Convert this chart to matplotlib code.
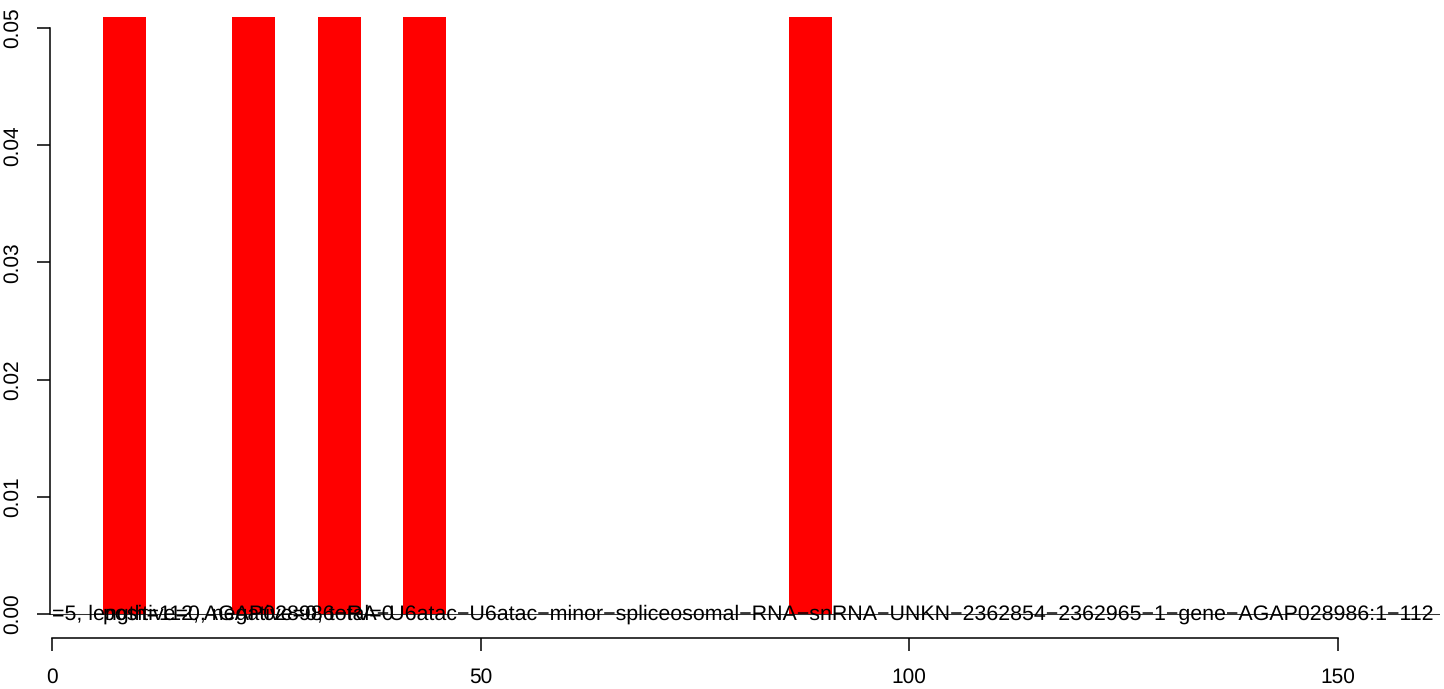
import matplotlib
matplotlib.use("Agg")
import matplotlib.pyplot as plt
import matplotlib.transforms as mtransforms

# bars: left edge, width, height (all bars clipped at the same height)
bar_left = [6, 21, 31, 41, 86]
bar_width = 5
bar_height = [0.0509, 0.0509, 0.0509, 0.0509, 0.0509]

label_main = "=5, length=112, AGAP028986\u2212RA\u2212U6atac\u2212U6atac\u2212minor\u2212spliceosomal\u2212RNA\u2212snRNA\u2212UNKN\u22122362854\u22122362965\u22121\u2212gene\u2212AGAP028986:1\u2212112"
label_main_x = 0
label_counts = "positive=0, negative=0, total=0"
label_counts_x = 6

x_ticks = [0, 50, 100, 150]
y_ticks = [0.00, 0.01, 0.02, 0.03, 0.04, 0.05]

plt.rcParams['font.family'] = ['Liberation Sans', 'DejaVu Sans']
plt.rcParams['text.hinting'] = 'no_hinting'
fs = 15
fs_label = 15.4

fig = plt.figure(figsize=(14.44, 6.89), dpi=100)
W, H = 1444, 689
ax = fig.add_axes([50 / W, 51 / H, 1390 / W, 638 / H])

ax.bar(bar_left, bar_height, width=bar_width, align='edge', color='#ff0000', linewidth=0)
ax.axhline(0, color='#333333', linewidth=0.75)

ax.set_xlim(-0.23, 161.9)
ax.set_ylim(-0.002048, 0.05239)

off = mtransforms.offset_copy(ax.transData, fig=fig, x=0, y=-6, units='dots')
ax.text(label_main_x, 0, label_main, ha='left', va='baseline', fontsize=fs_label,
        transform=off, clip_on=True)
ax.text(label_counts_x, 0, label_counts, ha='left', va='baseline', fontsize=fs_label,
        transform=off, clip_on=True)

for s in ['top', 'right']:
    ax.spines[s].set_visible(False)
ax.spines['left'].set_bounds(0, 0.05)
ax.spines['bottom'].set_bounds(0, 150)
for s in ['left', 'bottom']:
    ax.spines[s].set_linewidth(1.1)

ax.set_xticks(x_ticks)
ax.set_xticklabels([str(t) for t in x_ticks])
ax.set_yticks(y_ticks)
ax.set_yticklabels(["%.2f" % t for t in y_ticks])
ax.tick_params(axis='both', direction='out', length=9.2, width=1.1, labelsize=fs)
ax.tick_params(axis='x', pad=12)
ax.tick_params(axis='y', pad=11)
for lab in ax.get_yticklabels():
    lab.set_rotation(90)
    lab.set_va('center')
    lab.set_ha('right')

fig.savefig("out.png", dpi=100)
